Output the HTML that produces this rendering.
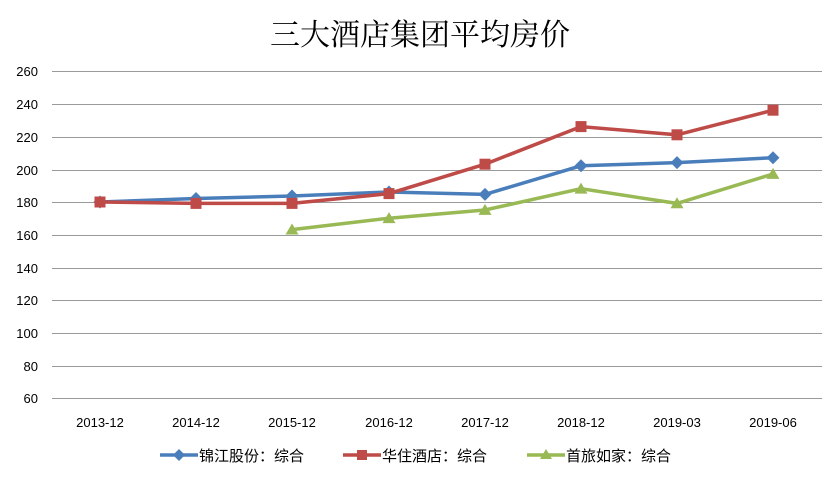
<!DOCTYPE html>
<html><head><meta charset="utf-8"><style>
html,body{margin:0;padding:0;background:#fff;width:840px;height:480px;overflow:hidden}
svg text{font-family:"Liberation Sans","Noto Sans CJK SC",sans-serif}
</style></head><body>
<svg width="840" height="480" xmlns="http://www.w3.org/2000/svg">
<rect width="840" height="480" fill="#fff"/>
<text x="420" y="45" text-anchor="middle" font-size="30" fill="#000" style="font-family:'Noto Serif CJK SC','Noto Sans CJK SC',serif">三大酒店集团平均房价</text>
<g stroke="#9a9a9a" stroke-width="1">
<line x1="52" x2="822" y1="71.5" y2="71.5"/><line x1="52" x2="822" y1="104.5" y2="104.5"/>
<line x1="52" x2="822" y1="137.5" y2="137.5"/><line x1="52" x2="822" y1="170.5" y2="170.5"/>
<line x1="52" x2="822" y1="202.5" y2="202.5"/><line x1="52" x2="822" y1="235.5" y2="235.5"/>
<line x1="52" x2="822" y1="268.5" y2="268.5"/><line x1="52" x2="822" y1="300.5" y2="300.5"/>
<line x1="52" x2="822" y1="333.5" y2="333.5"/><line x1="52" x2="822" y1="366.5" y2="366.5"/>
<line x1="52" x2="822" y1="398.5" y2="398.5"/>
</g>
<g font-size="13" fill="#000" text-anchor="end">
<text x="38" y="76">260</text><text x="38" y="109">240</text><text x="38" y="142">220</text>
<text x="38" y="175">200</text><text x="38" y="207">180</text><text x="38" y="240">160</text>
<text x="38" y="273">140</text><text x="38" y="305">120</text><text x="38" y="338">100</text>
<text x="38" y="371">80</text><text x="38" y="403">60</text>
</g>
<g font-size="13" fill="#000" text-anchor="middle">
<text x="100" y="427">2013-12</text><text x="196" y="427">2014-12</text><text x="292" y="427">2015-12</text>
<text x="389" y="427">2016-12</text><text x="485" y="427">2017-12</text><text x="581" y="427">2018-12</text>
<text x="677" y="427">2019-03</text><text x="773" y="427">2019-06</text>
</g>
<polyline fill="none" stroke="#4a7ebb" stroke-width="3.5" points="100,202 196,198.5 292,196 389,192 485,194.4 581,165.8 677,162.6 773,157.7"/>
<g fill="#4a7ebb">
<path d="M100,195.5 l6.5,6.5 -6.5,6.5 -6.5,-6.5z"/><path d="M196,192 l6.5,6.5 -6.5,6.5 -6.5,-6.5z"/><path d="M292,189.5 l6.5,6.5 -6.5,6.5 -6.5,-6.5z"/>
<path d="M389,185.5 l6.5,6.5 -6.5,6.5 -6.5,-6.5z"/><path d="M485,187.9 l6.5,6.5 -6.5,6.5 -6.5,-6.5z"/><path d="M581,159.3 l6.5,6.5 -6.5,6.5 -6.5,-6.5z"/>
<path d="M677,156.1 l6.5,6.5 -6.5,6.5 -6.5,-6.5z"/><path d="M773,151.2 l6.5,6.5 -6.5,6.5 -6.5,-6.5z"/>
</g>
<polyline fill="none" stroke="#be4b48" stroke-width="3.5" points="100,202 196,203.4 292,203.4 389,193.6 485,164.2 581,126.6 677,134.8 773,110.2"/>
<g fill="#be4b48">
<rect x="94.5" y="196.5" width="11" height="11"/><rect x="190.5" y="197.9" width="11" height="11"/><rect x="286.5" y="197.9" width="11" height="11"/>
<rect x="383.5" y="188.1" width="11" height="11"/><rect x="479.5" y="158.7" width="11" height="11"/><rect x="575.5" y="121.1" width="11" height="11"/>
<rect x="671.5" y="129.3" width="11" height="11"/><rect x="767.5" y="104.7" width="11" height="11"/>
</g>
<polyline fill="none" stroke="#98b954" stroke-width="3.5" points="292,229.6 389,218.2 485,210 581,188.7 677,203.4 773,174"/>
<g fill="#98b954">
<path d="M292,223.5 l6.5,11 h-13z"/><path d="M389,212.1 l6.5,11 h-13z"/><path d="M485,203.9 l6.5,11 h-13z"/>
<path d="M581,182.6 l6.5,11 h-13z"/><path d="M677,197.3 l6.5,11 h-13z"/><path d="M773,167.9 l6.5,11 h-13z"/>
</g>
<g font-size="15" fill="#000">
<line x1="160" x2="198" y1="455" y2="455" stroke="#4a7ebb" stroke-width="3.5"/><path d="M179,449 l6,6 -6,6 -6,-6z" fill="#4a7ebb"/>
<text x="199" y="461">锦江股份：综合</text>
<line x1="343" x2="381" y1="455" y2="455" stroke="#be4b48" stroke-width="3.5"/><rect x="357" y="450" width="10" height="10" fill="#be4b48"/>
<text x="382" y="461">华住酒店：综合</text>
<line x1="527" x2="565" y1="455" y2="455" stroke="#98b954" stroke-width="3.5"/><path d="M546,449 l6,10 h-12z" fill="#98b954"/>
<text x="566" y="461">首旅如家：综合</text>
</g>
</svg>
</body></html>
